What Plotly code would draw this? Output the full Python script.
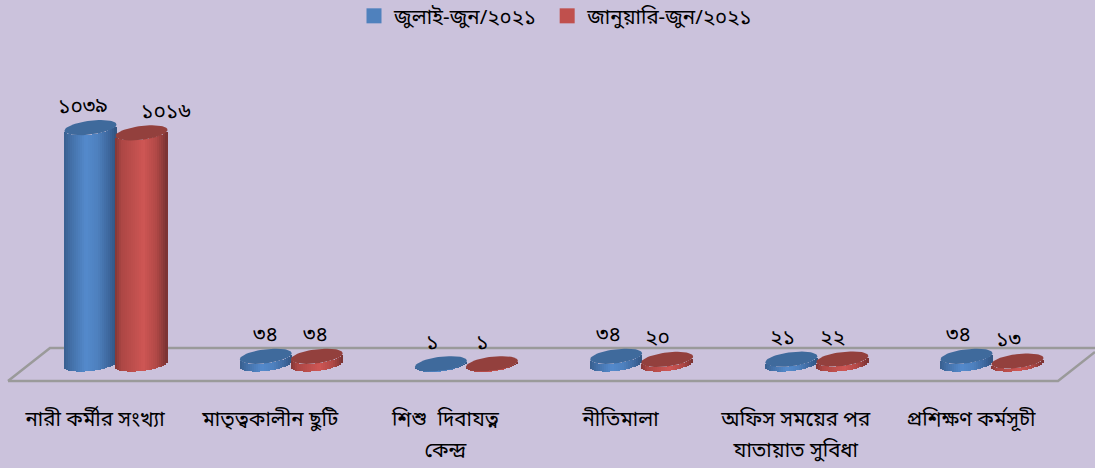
import math
import plotly.graph_objects as go

# ---- data ----
categories = ["নারী কর্মীর সংখ্যা", "মাতৃত্বকালীন ছুটি", "শিশু  দিবাযত্ন<br>কেন্দ্র", "নীতিমালা",
              "অফিস সময়ের পর<br>যাতায়াত সুবিধা", "প্রশিক্ষণ কর্মসূচী"]
series_a_name = "জুলাই-জুন/২০২১\u00a0"
series_b_name = "জানুয়ারি-জুন/২০২১"
series_a = [1039, 34, 1, 34, 21, 34]
series_b = [1016, 34, 1, 20, 22, 13]

# ---- geometry (pixels in the 1095x468 page) ----
W, H = 1095, 468
MB = 68
GROUP0, GROUP_STEP = 116.0, 175.2
BASE_Y = 364.0
PX_PER_UNIT = 0.2275
A, B, SLOPE = 26.0, 7.0, 0.115
DX = 25.5
FONT = "Noto Sans Bengali, Noto Sans, Lohit Bengali, sans-serif"
BG = "#cbc2dc"

xrange_ = [-GROUP0 / GROUP_STEP, (W - GROUP0) / GROUP_STEP]
yrange_ = [-(H - MB - BASE_Y) / PX_PER_UNIT, BASE_Y / PX_PER_UNIT]


def to_bn(v):
    return str(v).translate(str.maketrans("0123456789", "০১২৩৪৫৬৭৮৯"))


def lerp_stops(stops, f):
    for (f0, c0), (f1, c1) in zip(stops, stops[1:]):
        if f <= f1:
            t = (f - f0) / (f1 - f0)
            return "rgb(%d,%d,%d)" % tuple(round(a + (b - a) * t) for a, b in zip(c0, c1))
    return "rgb(%d,%d,%d)" % stops[-1][1]


BLUE_STOPS = [(0, (56, 94, 142)), (0.12, (66, 110, 165)), (0.42, (84, 138, 204)), (0.65, (78, 128, 190)),
              (0.9, (58, 98, 150)), (1, (50, 84, 128))]
RED_STOPS = [(0, (130, 54, 54)), (0.12, (172, 70, 68)), (0.55, (206, 86, 84)), (0.8, (176, 72, 70)),
             (1, (120, 50, 50))]
BLUE_TOP, RED_TOP = "#3f6a9c", "#93403d"


def cylinder_bars(values, centre_px, stops, name):
    n = 26
    sw = 2 * A / n
    xs, ys, bases, cols = [], [], [], []
    for j, v in enumerate(values):
        for s in range(n):
            t = -A + (s + 0.5) * sw
            lower = -SLOPE * t + B * math.sqrt(max(0, 1 - (t / A) ** 2))
            xs.append(j + (centre_px + t) / GROUP_STEP)
            ys.append(v)
            bases.append(-lower / PX_PER_UNIT)
            cols.append(lerp_stops(stops, (s + 0.5) / n))
    return go.Bar(x=xs, y=ys, base=bases, width=[(sw + 0.4) / GROUP_STEP] * len(xs),
                  marker=dict(color=cols, line=dict(width=0)), showlegend=False, name=name, hoverinfo="skip")


def cap(j, v, centre_px, colour):
    xs, ys = [], []
    for k in range(61):
        th = 2 * math.pi * k / 60
        t = A * math.cos(th)
        xs.append(j + (centre_px + t) / GROUP_STEP)
        ys.append(v + (SLOPE * t + B * math.sin(th)) / PX_PER_UNIT)
    return go.Scatter(x=xs, y=ys, mode="lines", fill="toself", fillcolor=colour,
                      line=dict(width=0, color=colour), showlegend=False, hoverinfo="skip")


fig = go.Figure()
fig.add_trace(cylinder_bars(series_a, -DX, BLUE_STOPS, series_a_name))
fig.add_trace(cylinder_bars(series_b, DX, RED_STOPS, series_b_name))
for j, (a, b) in enumerate(zip(series_a, series_b)):
    fig.add_trace(cap(j, b, DX, RED_TOP))
    fig.add_trace(cap(j, a, -DX, BLUE_TOP))

fig.add_trace(go.Scatter(x=[None], y=[None], mode="markers", name=series_a_name,
                         marker=dict(symbol="square", size=15, color="#4f81bd")))
fig.add_trace(go.Scatter(x=[None], y=[None], mode="markers", name=series_b_name,
                         marker=dict(symbol="square", size=15, color="#c0504d")))

# data labels
label_dx_a = [-33, -26, -34, -33, -34, -34]
label_dx_b = [50, 24, 16, 16, 16, 16]
for vals, dxs in ((series_a, label_dx_a), (series_b, label_dx_b)):
    for j, (v, d) in enumerate(zip(vals, dxs)):
        fig.add_annotation(x=j + d / GROUP_STEP, y=v, xref="x", yref="y", text=to_bn(v), showarrow=False,
                           yshift=20, font=dict(size=21, color="#000", family=FONT))

# floor
floor = [(8, 381), (50, 348), (1095, 348)]
floor2 = [(8, 381), (1058, 381), (1095, 352)]
for pts in (floor, floor2):
    path = "M " + " L ".join(f"{x/W} {1 - y/(H-MB)}" for x, y in pts)
    fig.add_shape(type="path", xref="paper", yref="paper", path=path, layer="below",
                  line=dict(color="#9a9a9a", width=2.5))

ticktext = ['<span style="font-size:20.5px">' + c.replace("<br>", '</span><br><span style="font-size:20.5px">') + "</span>"
            for c in categories]

fig.update_layout(
    width=W, height=H, autosize=False, margin=dict(l=0, r=0, t=0, b=MB),
    paper_bgcolor=BG, plot_bgcolor=BG, barmode="overlay", bargap=0,
    font=dict(family=FONT, size=20, color="#000"),
    legend=dict(orientation="h", x=354 / W, xanchor="left", y=1.0, yanchor="top",
                bgcolor="rgba(0,0,0,0)", font=dict(size=20.5, family=FONT), itemwidth=30),
    xaxis=dict(range=xrange_, showgrid=False, zeroline=False, showline=False, ticks="",
               tickmode="array", tickvals=[i - 21 / GROUP_STEP for i in range(6)], ticktext=ticktext,
               tickangle=0, tickfont=dict(size=24.5, family=FONT), automargin=False,
               fixedrange=True),
    yaxis=dict(range=yrange_, visible=False, fixedrange=True),
)
nudge = """
document.body.style.margin='0';
document.documentElement.style.background='%s';
var lg=document.querySelector('.legend');
if(lg){var m=/translate\\(([-\\d.]+),\\s*([-\\d.]+)\\)/.exec(lg.getAttribute('transform'));
if(m){lg.setAttribute('transform','translate('+m[1]+','+(parseFloat(m[2])-4)+')');}}
""" % BG
fig.write_html("out.html", config={"displayModeBar": False}, post_script=nudge)
